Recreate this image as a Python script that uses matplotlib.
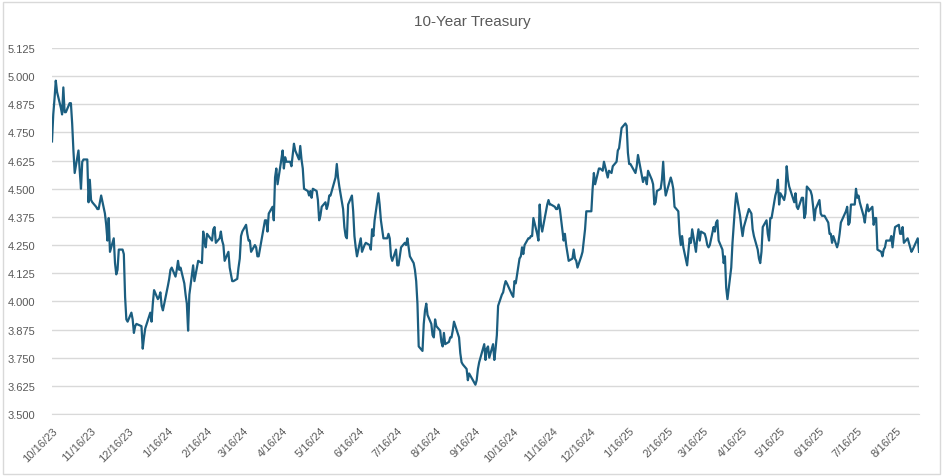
"""
10-Year Treasury yield, daily close, Oct 2023 - Sep 2025 (Excel-style line chart).
"""

import datetime as dt
import matplotlib
matplotlib.use("Agg")
import matplotlib.pyplot as plt
import matplotlib.dates as mdates
from matplotlib.patches import Rectangle

# ── data ─────────────────────────────────────────────────────────────────────
DATES_2023 = [
    "10/16", "10/17", "10/18", "10/19", "10/20", "10/23", "10/24", "10/25", "10/26", "10/27",
    "10/30", "10/31", "11/01", "11/02", "11/03", "11/06", "11/07", "11/08", "11/09", "11/10",
    "11/13", "11/14", "11/15", "11/16", "11/17", "11/20", "11/21", "11/22", "11/24", "11/27",
    "11/28", "11/29", "11/30", "12/01", "12/04", "12/05", "12/06", "12/07", "12/08", "12/11",
    "12/12", "12/13", "12/14", "12/15", "12/18", "12/19", "12/20", "12/21", "12/22", "12/26",
    "12/27", "12/28", "12/29",
]
YIELDS_2023 = [
    4.71, 4.83, 4.90, 4.98, 4.93, 4.86, 4.83, 4.95, 4.84, 4.84,
    4.88, 4.88, 4.79, 4.67, 4.57, 4.67, 4.58, 4.50, 4.62, 4.63,
    4.63, 4.44, 4.54, 4.45, 4.44, 4.42, 4.41, 4.41, 4.47, 4.39,
    4.34, 4.27, 4.37, 4.22, 4.28, 4.17, 4.12, 4.14, 4.23, 4.23,
    4.21, 4.02, 3.92, 3.91, 3.95, 3.92, 3.86, 3.89, 3.90, 3.89,
    3.79, 3.84, 3.88,
]

DATES_2024 = [
    "01/02", "01/03", "01/04", "01/05", "01/08", "01/09", "01/10", "01/11", "01/12", "01/16",
    "01/17", "01/18", "01/19", "01/22", "01/23", "01/24", "01/25", "01/26", "01/29", "01/30",
    "01/31", "02/01", "02/02", "02/05", "02/06", "02/07", "02/08", "02/09", "02/12", "02/13",
    "02/14", "02/15", "02/16", "02/20", "02/21", "02/22", "02/23", "02/26", "02/27", "02/28",
    "02/29", "03/01", "03/04", "03/05", "03/06", "03/07", "03/08", "03/11", "03/12", "03/13",
    "03/14", "03/15", "03/18", "03/19", "03/20", "03/21", "03/22", "03/25", "03/26", "03/27",
    "03/28", "04/01", "04/02", "04/03", "04/04", "04/05", "04/08", "04/09", "04/10", "04/11",
    "04/12", "04/15", "04/16", "04/17", "04/18", "04/19", "04/22", "04/23", "04/24", "04/25",
    "04/26", "04/29", "04/30", "05/01", "05/02", "05/03", "05/06", "05/07", "05/08", "05/09",
    "05/10", "05/13", "05/14", "05/15", "05/16", "05/17", "05/20", "05/21", "05/22", "05/23",
    "05/24", "05/28", "05/29", "05/30", "05/31", "06/03", "06/04", "06/05", "06/06", "06/07",
    "06/10", "06/11", "06/12", "06/13", "06/14", "06/17", "06/18", "06/20", "06/21", "06/24",
    "06/25", "06/26", "06/27", "06/28", "07/01", "07/02", "07/03", "07/05", "07/08", "07/09",
    "07/10", "07/11", "07/12", "07/15", "07/16", "07/17", "07/18", "07/19", "07/22", "07/23",
    "07/24", "07/25", "07/26", "07/29", "07/30", "07/31", "08/01", "08/02", "08/05", "08/06",
    "08/07", "08/08", "08/09", "08/12", "08/13", "08/14", "08/15", "08/16", "08/19", "08/20",
    "08/21", "08/22", "08/23", "08/26", "08/27", "08/28", "08/29", "08/30", "09/03", "09/04",
    "09/05", "09/06", "09/09", "09/10", "09/11", "09/12", "09/13", "09/16", "09/17", "09/18",
    "09/19", "09/20", "09/23", "09/24", "09/25", "09/26", "09/27", "09/30", "10/01", "10/02",
    "10/03", "10/04", "10/07", "10/08", "10/09", "10/10", "10/11", "10/15", "10/16", "10/17",
    "10/18", "10/21", "10/22", "10/23", "10/24", "10/25", "10/28", "10/29", "10/30", "10/31",
    "11/01", "11/04", "11/05", "11/06", "11/07", "11/08", "11/12", "11/13", "11/14", "11/15",
    "11/18", "11/19", "11/20", "11/21", "11/22", "11/25", "11/26", "11/27", "11/29", "12/02",
    "12/03", "12/04", "12/05", "12/06", "12/09", "12/10", "12/11", "12/12", "12/13", "12/16",
    "12/17", "12/18", "12/19", "12/20", "12/23", "12/24", "12/26", "12/27", "12/30", "12/31",
]
YIELDS_2024 = [
    3.95, 3.91, 3.99, 4.05, 4.01, 4.02, 4.04, 3.98, 3.96, 4.07,
    4.10, 4.14, 4.15, 4.11, 4.14, 4.18, 4.14, 4.15, 4.08, 4.03,
    3.99, 3.87, 4.03, 4.16, 4.09, 4.12, 4.15, 4.18, 4.17, 4.31,
    4.27, 4.24, 4.30, 4.27, 4.32, 4.33, 4.26, 4.28, 4.31, 4.27,
    4.25, 4.18, 4.22, 4.15, 4.12, 4.09, 4.09, 4.10, 4.15, 4.19,
    4.29, 4.31, 4.34, 4.30, 4.27, 4.27, 4.22, 4.25, 4.24, 4.20,
    4.20, 4.33, 4.36, 4.36, 4.31, 4.39, 4.42, 4.36, 4.55, 4.59,
    4.52, 4.63, 4.67, 4.59, 4.64, 4.62, 4.62, 4.60, 4.65, 4.70,
    4.67, 4.63, 4.69, 4.63, 4.59, 4.50, 4.49, 4.47, 4.49, 4.46,
    4.50, 4.49, 4.45, 4.36, 4.38, 4.42, 4.44, 4.41, 4.43, 4.47,
    4.47, 4.55, 4.61, 4.55, 4.51, 4.41, 4.33, 4.29, 4.28, 4.43,
    4.47, 4.40, 4.29, 4.24, 4.20, 4.28, 4.22, 4.25, 4.26, 4.25,
    4.23, 4.32, 4.29, 4.36, 4.48, 4.43, 4.36, 4.28, 4.28, 4.30,
    4.28, 4.20, 4.18, 4.23, 4.16, 4.16, 4.20, 4.24, 4.26, 4.25,
    4.28, 4.24, 4.20, 4.17, 4.14, 4.09, 3.99, 3.80, 3.78, 3.90,
    3.96, 3.99, 3.94, 3.90, 3.85, 3.84, 3.92, 3.89, 3.87, 3.82,
    3.80, 3.86, 3.81, 3.82, 3.84, 3.84, 3.87, 3.91, 3.84, 3.77,
    3.73, 3.72, 3.70, 3.65, 3.68, 3.67, 3.66, 3.63, 3.65, 3.70,
    3.73, 3.75, 3.81, 3.74, 3.79, 3.80, 3.75, 3.81, 3.74, 3.79,
    3.85, 3.98, 4.03, 4.04, 4.07, 4.09, 4.08, 4.03, 4.02, 4.09,
    4.08, 4.19, 4.20, 4.24, 4.21, 4.25, 4.28, 4.28, 4.29, 4.29,
    4.37, 4.30, 4.27, 4.43, 4.34, 4.31, 4.43, 4.45, 4.43, 4.43,
    4.42, 4.41, 4.41, 4.43, 4.41, 4.27, 4.30, 4.25, 4.18, 4.19,
    4.23, 4.19, 4.18, 4.15, 4.20, 4.22, 4.27, 4.32, 4.40, 4.40,
    4.40, 4.50, 4.57, 4.52, 4.59, 4.59, 4.58, 4.62, 4.55, 4.58,
]

DATES_2025 = [
    "01/02", "01/03", "01/06", "01/07", "01/08", "01/10", "01/13", "01/14", "01/15", "01/16",
    "01/17", "01/21", "01/22", "01/23", "01/24", "01/27", "01/28", "01/29", "01/30", "01/31",
    "02/03", "02/04", "02/05", "02/06", "02/07", "02/10", "02/11", "02/12", "02/13", "02/14",
    "02/18", "02/19", "02/20", "02/21", "02/24", "02/25", "02/26", "02/27", "02/28", "03/03",
    "03/04", "03/05", "03/06", "03/07", "03/10", "03/11", "03/12", "03/13", "03/14", "03/17",
    "03/18", "03/19", "03/20", "03/21", "03/24", "03/25", "03/26", "03/27", "03/28", "03/31",
    "04/01", "04/02", "04/03", "04/04", "04/07", "04/08", "04/09", "04/10", "04/11", "04/14",
    "04/15", "04/16", "04/17", "04/21", "04/22", "04/23", "04/24", "04/25", "04/28", "04/29",
    "04/30", "05/01", "05/02", "05/05", "05/06", "05/07", "05/08", "05/09", "05/12", "05/13",
    "05/14", "05/15", "05/16", "05/19", "05/20", "05/21", "05/22", "05/23", "05/27", "05/28",
    "05/29", "05/30", "06/02", "06/03", "06/04", "06/05", "06/06", "06/09", "06/10", "06/11",
    "06/12", "06/13", "06/16", "06/17", "06/18", "06/20", "06/23", "06/24", "06/25", "06/26",
    "06/27", "06/30", "07/01", "07/02", "07/03", "07/07", "07/08", "07/09", "07/10", "07/11",
    "07/14", "07/15", "07/16", "07/17", "07/18", "07/21", "07/22", "07/23", "07/24", "07/25",
    "07/28", "07/29", "07/30", "07/31", "08/01", "08/04", "08/05", "08/06", "08/07", "08/08",
    "08/11", "08/12", "08/13", "08/14", "08/15", "08/18", "08/19", "08/20", "08/21", "08/22",
    "08/25", "08/26", "08/27", "08/28", "08/29", "09/02", "09/03",
]
YIELDS_2025 = [
    4.57, 4.60, 4.62, 4.67, 4.68, 4.77, 4.79, 4.78, 4.66, 4.61,
    4.61, 4.57, 4.60, 4.65, 4.62, 4.53, 4.55, 4.55, 4.52, 4.58,
    4.54, 4.52, 4.43, 4.44, 4.49, 4.50, 4.54, 4.62, 4.52, 4.47,
    4.55, 4.53, 4.50, 4.42, 4.40, 4.30, 4.25, 4.29, 4.24, 4.16,
    4.22, 4.28, 4.26, 4.32, 4.22, 4.28, 4.32, 4.27, 4.31, 4.30,
    4.28, 4.25, 4.24, 4.25, 4.33, 4.31, 4.35, 4.36, 4.27, 4.23,
    4.17, 4.20, 4.06, 4.01, 4.15, 4.26, 4.34, 4.42, 4.48, 4.38,
    4.33, 4.29, 4.33, 4.41, 4.40, 4.39, 4.32, 4.29, 4.23, 4.19,
    4.17, 4.22, 4.33, 4.36, 4.30, 4.27, 4.37, 4.37, 4.47, 4.49,
    4.54, 4.43, 4.48, 4.45, 4.48, 4.60, 4.54, 4.51, 4.44, 4.48,
    4.42, 4.41, 4.46, 4.46, 4.37, 4.39, 4.51, 4.49, 4.47, 4.42,
    4.36, 4.41, 4.45, 4.39, 4.38, 4.38, 4.35, 4.30, 4.30, 4.26,
    4.29, 4.24, 4.26, 4.30, 4.35, 4.40, 4.42, 4.34, 4.35, 4.43,
    4.43, 4.50, 4.46, 4.47, 4.44, 4.38, 4.35, 4.40, 4.43, 4.40,
    4.42, 4.34, 4.37, 4.37, 4.23, 4.22, 4.20, 4.23, 4.24, 4.27,
    4.27, 4.29, 4.24, 4.29, 4.33, 4.34, 4.30, 4.30, 4.33, 4.26,
    4.28, 4.26, 4.24, 4.22, 4.23, 4.28, 4.22,
]

TITLE = "10-Year Treasury"
Y_TICKS = [3.500, 3.625, 3.750, 3.875, 4.000, 4.125, 4.250, 4.375,
           4.500, 4.625, 4.750, 4.875, 5.000, 5.125]
X_TICK_DATES = [
    "2023-10-16", "2023-11-16", "2023-12-16", "2024-01-16", "2024-02-16", "2024-03-16",
    "2024-04-16", "2024-05-16", "2024-06-16", "2024-07-16", "2024-08-16", "2024-09-16",
    "2024-10-16", "2024-11-16", "2024-12-16", "2025-01-16", "2025-02-16", "2025-03-16",
    "2025-04-16", "2025-05-16", "2025-06-16", "2025-07-16", "2025-08-16",
]

LINE_COLOR = "#1b5e80"
TEXT_COLOR = "#595959"
GRID_COLOR = "#d9d9d9"


def to_dates(year, md_list):
    return [dt.datetime.strptime(f"{year}/{md}", "%Y/%m/%d") for md in md_list]


def main():
    dates = to_dates(2023, DATES_2023) + to_dates(2024, DATES_2024) + to_dates(2025, DATES_2025)
    yields = YIELDS_2023 + YIELDS_2024 + YIELDS_2025

    fig = plt.figure(figsize=(9.44, 4.77), dpi=100)
    ax = fig.add_axes([52 / 944, 1 - 415 / 477, (919 - 52) / 944, (415 - 49) / 477])

    ax.plot(dates, yields, color=LINE_COLOR, linewidth=1.6, solid_joinstyle="round")

    # y axis
    ax.set_ylim(3.5, 5.125)
    ax.set_yticks(Y_TICKS)
    ax.set_yticklabels([f"{v:.3f}" for v in Y_TICKS])
    ax.yaxis.grid(True, color=GRID_COLOR, linewidth=1.0)
    ax.set_axisbelow(True)

    # x axis (date axis, ticks on the 16th of each month)
    tick_dt = [dt.datetime.strptime(s, "%Y-%m-%d") for s in X_TICK_DATES]
    ax.set_xlim(dt.datetime(2023, 10, 16), dt.datetime(2025, 9, 3))
    ax.set_xticks(mdates.date2num(tick_dt))
    ax.set_xticklabels([f"{d.month}/{d.day}/{d.year % 100}" for d in tick_dt],
                       rotation=45, ha="right", rotation_mode="anchor")

    ax.tick_params(axis="both", length=0, colors=TEXT_COLOR, labelsize=8)
    ax.tick_params(axis="y", pad=12)
    ax.tick_params(axis="x", pad=8)
    for side in ("top", "right", "left"):
        ax.spines[side].set_visible(False)
    ax.spines["bottom"].set_color(GRID_COLOR)

    for lab in ax.get_xticklabels() + ax.get_yticklabels():
        lab.set_family("Liberation Sans")

    fig.text(0.5, 1 - 22 / 477, TITLE, ha="center", va="center",
             fontsize=11, color=TEXT_COLOR, family="Liberation Sans")

    # chart border
    fig.patches.append(Rectangle((3 / 944, 2 / 477), 937 / 944, 472 / 477,
                                 transform=fig.transFigure, fill=False,
                                 edgecolor=GRID_COLOR, linewidth=1.0))

    fig.savefig("out.png", dpi=100)


if __name__ == "__main__":
    main()
